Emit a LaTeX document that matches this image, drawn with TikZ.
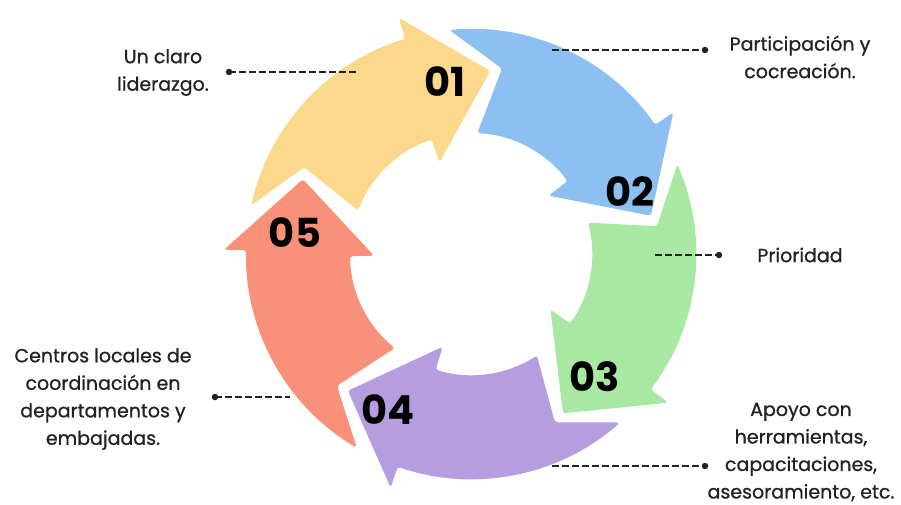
\documentclass[tikz,border=0pt]{standalone}
\usepackage{fontspec}
\setmainfont{Poppins}
\newfontfamily\lblfont{Poppins}[FakeBold=0.8]
\definecolor{cyel}{HTML}{FCD88C}
\definecolor{cblu}{HTML}{8CC0F0}
\definecolor{cgrn}{HTML}{A8E8A2}
\definecolor{cpur}{HTML}{B59DE0}
\definecolor{cred}{HTML}{F9917A}
\definecolor{ctxt}{HTML}{222222}
\newcommand\ringarrow[2]{%
  \begin{scope}[shift={(471,250)},rotate=#1]
    \fill[#2, rounded corners=3pt] (0:184) -- (23:247) -- (23:225)
      arc[start angle=23, end angle=83.5, radius=225]
      -- (68.5:188) -- (75:121)
      arc[start angle=75, end angle=25, radius=121]
      -- (25:97) -- cycle;
  \end{scope}}
\begin{document}
\begin{tikzpicture}[x=1pt,y=1pt,
  numlbl/.style={font=\fontsize{40}{40}\selectfont\bfseries, text=black, inner sep=0pt},
  lbl/.style={font=\lblfont\fontsize{19}{27.5}\selectfont, text=ctxt, align=center, inner sep=0pt},
  leader/.style={draw=ctxt, line width=1.7pt, dash pattern=on 7pt off 3pt},
  dotn/.style={circle, fill=ctxt, inner sep=0pt, minimum size=6.5pt}]
\useasboundingbox (0,0) rectangle (901,504);
\fill[white] (0,0) rectangle (901,504);
\ringarrow{84}{cyel}
\ringarrow{12}{cblu}
\ringarrow{-60}{cgrn}
\ringarrow{-132}{cpur}
\ringarrow{156}{cred}
\node[numlbl] (n1) at (445,422) {01};
\node[numlbl] (n2) at (630,312) {02};
\node[numlbl] (n3) at (595,127) {03};
\node[numlbl] (n4) at (388,94) {04};
\node[numlbl] (n5) at (295,271) {05};
% labels
\node[lbl] (t1) at (163,431.5) {Un claro\\liderazgo.};
\node[lbl] (t2) at (800,447) {Participación y\\cocreación.};
\node[lbl] (t3) at (800,249) {Prioridad};
\node[lbl] (t4) at (801,52) {Apoyo con\\herramientas,\\capacitaciones,\\asesoramiento, etc.};
\node[lbl] (t5) at (103,105) {Centros locales de\\coordinación en\\departamentos y\\embajadas.};
% leaders
\node[dotn] (d1) at (229,432) {};
\coordinate (e1) at (358,432);
\draw[leader] (d1.center) -- (e1);
\node[dotn] (d2) at (705,454) {};
\coordinate (e2) at (552,454);
\draw[leader] (e2) -- (d2.center);
\node[dotn] (d3) at (719,249) {};
\coordinate (e3) at (655,249);
\draw[leader] (e3) -- (d3.center);
\node[dotn] (d4) at (705,38) {};
\coordinate (e4) at (552,38);
\draw[leader] (e4) -- (d4.center);
\node[dotn] (d5) at (215,107) {};
\coordinate (e5) at (290,107);
\draw[leader] (d5.center) -- (e5);
\end{tikzpicture}
\end{document}
